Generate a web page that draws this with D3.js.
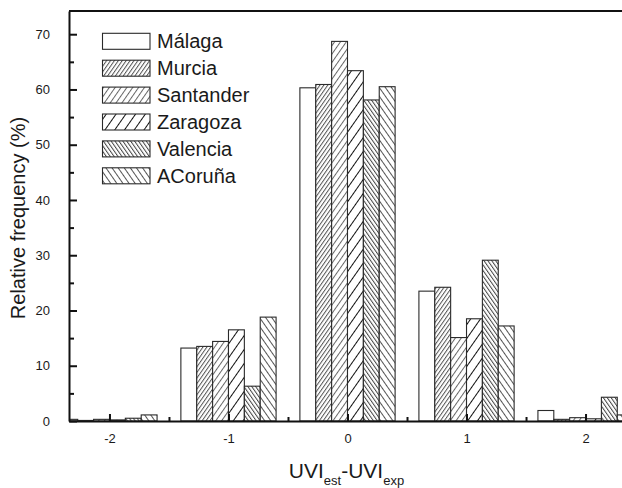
<!DOCTYPE html>
<html>
<head>
<meta charset="utf-8">
<script src="https://cdn.jsdelivr.net/npm/d3@7"></script>
<style>
  body { margin: 0; background: #fff; }
  text { font-family: "Liberation Sans", Arial, sans-serif; fill: #1a1a1a; }
</style>
</head>
<body>
<div id="chart"></div>
<script>
// values
var groups = [-2, -1, 0, 1, 2];
var cities = ["Málaga", "Murcia", "Santander", "Zaragoza", "Valencia", "ACoruña"];
var malaga    = [0.3, 13.2, 60.3, 23.5, 1.9];
var murcia    = [0.1, 13.5, 60.9, 24.2, 0.3];
var santander = [0.3, 14.4, 68.7, 15.1, 0.6];
var zaragoza  = [0.2, 16.5, 63.4, 18.5, 0.4];
var valencia  = [0.5, 6.3, 58.1, 29.1, 4.3];
var acoruna   = [1.1, 18.8, 60.5, 17.2, 1.1];
var yTicks = [0, 10, 20, 30, 40, 50, 60, 70];
var xTicks = [-2, -1, 0, 1, 2];

var series = [malaga, murcia, santander, zaragoza, valencia, acoruna];

var W = 622, H = 488;
var margin = {top: 11, left: 69, bottom: 67};
var plotRight = 626;
var height = H - margin.top - margin.bottom;

var svg = d3.select("#chart")
  .append("svg")
    .attr("width", W)
    .attr("height", H);

// hatch patterns: [angle, spacing, colour]  (null = empty)
var hatch = [
  null,
  [35, 3.2, "#555"],
  [35, 4.8, "#666"],
  [35, 8, "#111"],
  [-35, 3.2, "#444"],
  [-35, 5, "#555"]
];
var defs = svg.append("defs");
hatch.forEach(function(h, i) {
  if (!h) return;
  var p = defs.append("pattern")
    .attr("id", "hatch" + i)
    .attr("patternUnits", "userSpaceOnUse")
    .attr("width", h[1])
    .attr("height", h[1])
    .attr("patternTransform", "rotate(" + h[0] + ")");
  p.append("rect").attr("width", h[1]).attr("height", h[1]).attr("fill", "#fff");
  p.append("line")
    .attr("x1", 0.5).attr("y1", 0)
    .attr("x2", 0.5).attr("y2", h[1])
    .attr("stroke", h[2])
    .attr("stroke-width", 1);
});
function fillOf(i) { return hatch[i] ? "url(#hatch" + i + ")" : "#fff"; }

defs.append("clipPath").attr("id", "plotclip")
  .append("rect")
    .attr("x", margin.left).attr("y", margin.top)
    .attr("width", plotRight - margin.left).attr("height", height + 1);

var x = d3.scaleLinear()
  .domain([-2.34, 2.34])
  .range([margin.left, plotRight]);
var y = d3.scaleLinear()
  .domain([0, 74.2])
  .range([margin.top + height, margin.top]);

var bw = 0.8 / 6;

// bars
var bars = svg.append("g").attr("clip-path", "url(#plotclip)");
series.forEach(function(vals, i) {
  bars.selectAll(".s" + i)
    .data(vals)
    .enter()
    .append("rect")
      .attr("class", "s" + i)
      .attr("x", function(v, k) { return x(groups[k] + (i - 3) * bw); })
      .attr("y", function(v) { return y(v); })
      .attr("width", function(v, k) { return x(groups[k] + (i - 2) * bw) - x(groups[k] + (i - 3) * bw); })
      .attr("height", function(v) { return y(0) - y(v); })
      .attr("fill", fillOf(i))
      .attr("stroke", "#2a2a2a")
      .attr("stroke-width", 1.1);
});

// top frame line
svg.append("line")
  .attr("x1", margin.left).attr("x2", plotRight)
  .attr("y1", margin.top).attr("y2", margin.top)
  .attr("stroke", "#111").attr("stroke-width", 2);

// y axis
var yAxis = svg.append("g")
  .attr("transform", "translate(" + margin.left + ",0)")
  .call(d3.axisLeft(y).tickValues(yTicks).tickSize(-8).tickSizeOuter(0).tickPadding(19)
    .tickFormat(function(d) { return String(d); }));
svg.append("g")
  .attr("transform", "translate(" + margin.left + ",0)")
  .call(d3.axisLeft(y).tickValues(d3.range(5, 74, 10)).tickSize(-5).tickSizeOuter(0).tickFormat(""))
  .select(".domain").remove();

// x axis
var xAxis = svg.append("g")
  .attr("transform", "translate(0," + y(0) + ")")
  .call(d3.axisBottom(x).tickValues(xTicks).tickSize(-7).tickSizeOuter(0).tickPadding(13)
    .tickFormat(function(d) { return String(d); }));
svg.append("g")
  .attr("transform", "translate(0," + y(0) + ")")
  .call(d3.axisBottom(x).tickValues([-1.5, -0.5, 0.5, 1.5]).tickSize(-4).tickSizeOuter(0).tickFormat(""))
  .select(".domain").remove();

svg.selectAll(".domain").attr("stroke", "#111").attr("stroke-width", 2);
svg.selectAll(".tick line").attr("stroke", "#111").attr("stroke-width", 2);
svg.selectAll(".tick text")
  .style("font-size", "13px")
  .style("font-family", "'Liberation Sans', Arial, sans-serif")
  .attr("fill", "#333");

// axis titles
svg.append("text")
  .attr("transform", "translate(25," + (margin.top + height / 2 + 2) + ") rotate(-90)")
  .attr("text-anchor", "middle")
  .style("font-size", "20px")
  .text("Relative frequency (%)");

var xt = svg.append("text")
  .attr("x", (margin.left + plotRight) / 2 - 1)
  .attr("y", 478)
  .attr("text-anchor", "middle")
  .style("font-size", "21px");
xt.append("tspan").text("UVI");
xt.append("tspan").attr("dy", 7).style("font-size", "13px").text("est");
xt.append("tspan").attr("dy", -7).text("-UVI");
xt.append("tspan").attr("dy", 7).style("font-size", "13px").text("exp");

// legend
var legend = svg.append("g");
cities.forEach(function(c, i) {
  var top = 33.3 + i * 26.9;
  legend.append("rect")
    .attr("x", 102.5).attr("y", top)
    .attr("width", 47.5).attr("height", 16)
    .attr("fill", fillOf(i))
    .attr("stroke", "#2a2a2a")
    .attr("stroke-width", 1.1);
  legend.append("text")
    .attr("x", 157)
    .attr("y", top + 15)
    .style("font-size", "20px")
    .text(c);
});
</script>
</body>
</html>
